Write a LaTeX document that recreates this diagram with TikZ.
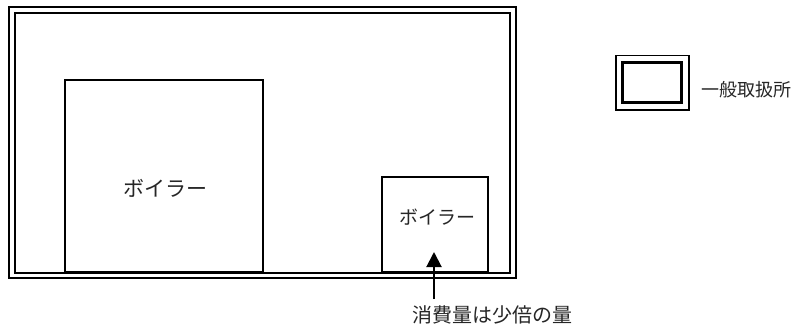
\documentclass[tikz,border=0pt]{standalone}
\usepackage{fontspec}
\newfontfamily\jp{Noto Sans CJK JP}
\usetikzlibrary{arrows.meta}
\begin{document}
\begin{tikzpicture}[x=1pt,y=-1pt,
  frame/.style={draw=black,line width=2pt},
  boiler/.style={draw=black,line width=1.4pt,fill=white,rectangle,inner sep=0pt},
  jtext/.style={inner sep=0pt,text=black!85}]
\useasboundingbox (0,0) rectangle (797,324);
% main frame (double line)
\draw[frame] (9,7) rectangle (516,278);
\draw[frame] (15,13) rectangle (510,273);
% boilers
\node[boiler,minimum width=198pt,minimum height=192pt] (b1) at (164,176) {};
\node[jtext,font=\jp\fontsize{21}{24}\selectfont] (t1) at (165,188) {ボイラー};
\node[boiler,minimum width=106pt,minimum height=95pt] (b2) at (435,224.5) {};
\node[jtext,font=\jp\fontsize{19}{22}\selectfont] (t2) at (437,217) {ボイラー};
% arrow and note
\node[jtext,font=\jp\fontsize{20}{22}\selectfont,anchor=west] (note) at (412,315) {消費量は少倍の量};
\coordinate (tail) at (434,299);
\coordinate (tip) at (434,252);
\draw[line width=2pt,-{Triangle[length=15pt,width=15pt]}] (tail) -- (tip);
% legend
\draw[line width=1.2pt] (616,55.5) rectangle (689,110);
\draw[line width=3pt] (622.5,62) rectangle (681.5,102.5);
\node[jtext,font=\jp\fontsize{18}{20}\selectfont,anchor=west] (leg) at (701,90) {一般取扱所};
\end{tikzpicture}
\end{document}
